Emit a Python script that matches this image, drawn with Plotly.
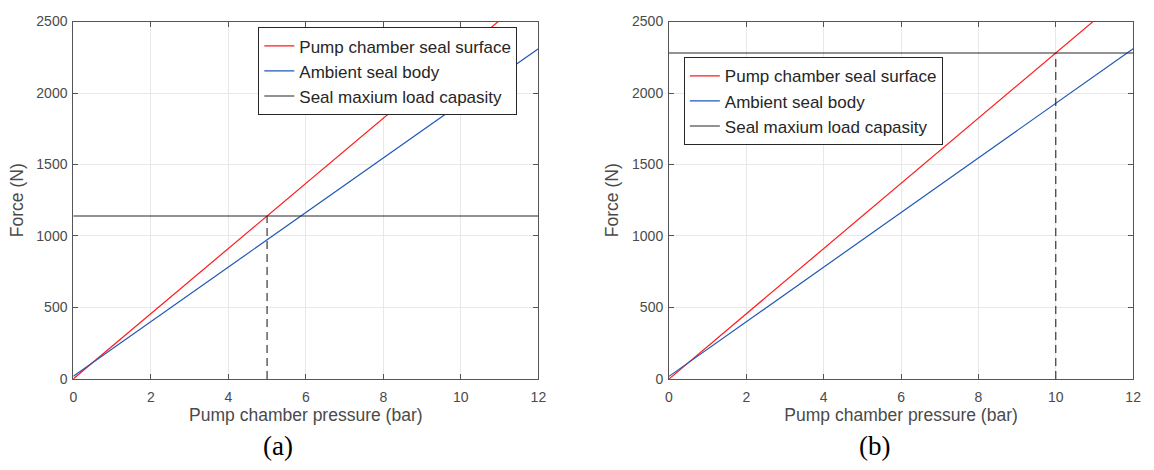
import plotly.graph_objects as go

# Data
pressure = [0, 12]
pump_surface = [0, 2736]      # red, both panels
ambient_body = [18, 2310]     # blue, both panels
load_a = 1140                 # seal max load capacity, panel (a)
load_b = 2280                 # panel (b)
cross_a = 5                   # pressure where red meets the limit (a)
cross_b = 10                  # (b)
xticks = [0, 2, 4, 6, 8, 10, 12]
yticks = [0, 500, 1000, 1500, 2000, 2500]
names = ["Pump chamber seal surface", "Ambient seal body", "Seal maxium load capasity"]
panel_labels = ["(a)", "(b)"]

RED = "#ff1a1a"
BLUE = "#1f57b8"
BLACK = "#262626"
AX = "#555555"
TXT = "#4a4a4a"
FONT = "Liberation Sans, Arial, sans-serif"

W, H = 1154, 470
dom_x = [(70 / W, 540 / W), (672 / W, 1141 / W)]
dom_y = (1 - 384 / H, 1 - 14 / H)

fig = go.Figure()
loads = [load_a, load_b]
crosses = [cross_a, cross_b]
for i in range(2):
    xa = "x" if i == 0 else "x2"
    ya = "y" if i == 0 else "y2"
    lg = "legend" if i == 0 else "legend2"
    fig.add_trace(go.Scatter(x=pressure, y=pump_surface, mode="lines", name=names[0],
                             line=dict(color=RED, width=1.2), xaxis=xa, yaxis=ya, legend=lg))
    fig.add_trace(go.Scatter(x=pressure, y=ambient_body, mode="lines", name=names[1],
                             line=dict(color=BLUE, width=1.2), xaxis=xa, yaxis=ya, legend=lg))
    fig.add_trace(go.Scatter(x=[pressure[0], pressure[-1]], y=[loads[i], loads[i]], mode="lines",
                             name=names[2], line=dict(color=BLACK, width=1.1),
                             xaxis=xa, yaxis=ya, legend=lg))
    fig.add_trace(go.Scatter(x=[crosses[i], crosses[i]], y=[0, loads[i]], mode="lines",
                             showlegend=False, line=dict(color=BLACK, width=1.1, dash="8px,5px"),
                             xaxis=xa, yaxis=ya))

axis_common = dict(showline=True, linecolor=AX, linewidth=1, mirror="ticks",
                   ticks="inside", ticklen=5, tickcolor=AX,
                   showgrid=True, gridcolor="#e8e8e8", gridwidth=1, zeroline=False,
                   tickfont=dict(family=FONT, size=14, color=TXT))

for i in range(2):
    sfx = "" if i == 0 else "2"
    fig.update_layout(**{
        "xaxis" + sfx: dict(domain=list(dom_x[i]), range=[0, 12], tickvals=xticks,
                             anchor="y" + sfx, ticklabelstandoff=5,
                             title=dict(text="Pump chamber pressure (bar)", standoff=4,
                                        font=dict(family=FONT, size=17.5, color=TXT)),
                             **axis_common),
        "yaxis" + sfx: dict(domain=list(dom_y), range=[0, 2500], tickvals=yticks,
                             anchor="x" + sfx, ticklabelstandoff=2,
                             title=dict(text="Force (N)", standoff=8,
                                        font=dict(family=FONT, size=17.5, color=TXT)),
                             **axis_common),
    })

legend_common = dict(bgcolor="white", bordercolor=BLACK, borderwidth=1,
                     font=dict(family=FONT, size=17, color="#262626"),
                     xanchor="left", yanchor="top", tracegroupgap=0, itemwidth=30)
fig.update_layout(
    legend=dict(x=257 / W, y=1 - 20 / H, **legend_common),
    legend2=dict(x=687 / W, y=1 - 51 / H, **legend_common),
)

label_x = [277 / W, 880 / W]
for i, lab in enumerate(panel_labels):
    fig.add_annotation(text=lab, x=label_x[i], y=1 - 453 / H, xref="paper", yref="paper",
                       xanchor="center", yanchor="middle", showarrow=False,
                       font=dict(family="Liberation Serif, Times New Roman, serif",
                                 size=27, color="black"))

fig.update_layout(width=W, height=H, margin=dict(l=0, r=0, t=0, b=0),
                  paper_bgcolor="white", plot_bgcolor="white", showlegend=True)

fig.write_html("out.html")
